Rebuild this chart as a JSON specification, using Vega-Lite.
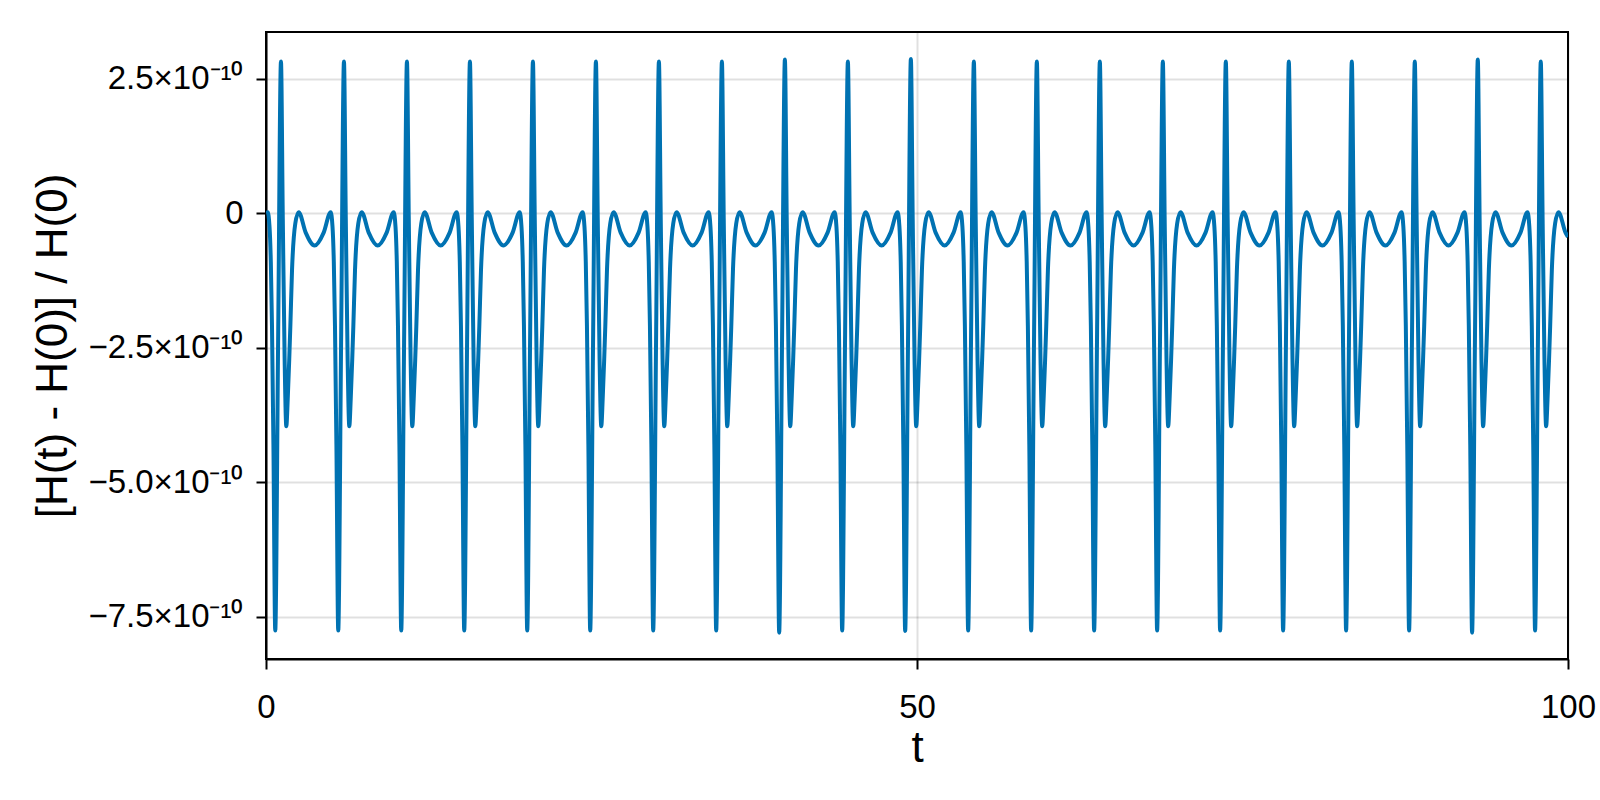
{
"$schema": "https://vega.github.io/schema/vega-lite/v6.json",
"width": 1302, "height": 627,
"autosize": {"type": "none"},
"padding": {"left": 266, "top": 32, "right": 32, "bottom": 141},
"background": "white",
"config": {"view": {"stroke": "black", "strokeWidth": 2}, "font": "Liberation Sans"},
"data": {"values": [
{"t":0,"v":0},
{"t":0.13,"v":0.02e-10},{"t":0.27,"v":-0.25e-10},{"t":0.37,"v":-0.9e-10},{"t":0.46,"v":-2.1e-10},{"t":0.57,"v":-4.3e-10},{"t":0.71,"v":-7.76e-10},{"t":0.93,"v":-2.4e-10},{"t":1.15,"v":2.82e-10},{"t":1.29,"v":-0.1e-10},{"t":1.43,"v":-2.7e-10},{"t":1.56,"v":-3.96e-10},{"t":1.67,"v":-3.45e-10},{"t":1.78,"v":-2.75e-10},{"t":1.87,"v":-2.1e-10},{"t":2.0,"v":-1.05e-10},{"t":2.25,"v":-0.19e-10},{"t":2.51,"v":0.02e-10},{"t":3.05,"v":-0.36e-10},{"t":3.74,"v":-0.6e-10},{"t":4.43,"v":-0.36e-10},
{"t":4.968,"v":0.02e-10},{"t":5.108,"v":-0.25e-10},{"t":5.208,"v":-0.9e-10},{"t":5.298,"v":-2.1e-10},{"t":5.408,"v":-4.3e-10},{"t":5.548,"v":-7.76e-10},{"t":5.768,"v":-2.4e-10},{"t":5.988,"v":2.82e-10},{"t":6.128,"v":-0.1e-10},{"t":6.268,"v":-2.7e-10},{"t":6.398,"v":-3.96e-10},{"t":6.508,"v":-3.45e-10},{"t":6.618,"v":-2.75e-10},{"t":6.708,"v":-2.1e-10},{"t":6.838,"v":-1.05e-10},{"t":7.088,"v":-0.19e-10},{"t":7.348,"v":0.02e-10},{"t":7.888,"v":-0.36e-10},{"t":8.578,"v":-0.6e-10},{"t":9.268,"v":-0.36e-10},
{"t":9.806,"v":0.02e-10},{"t":9.946,"v":-0.25e-10},{"t":10.046,"v":-0.9e-10},{"t":10.136,"v":-2.1e-10},{"t":10.246,"v":-4.3e-10},{"t":10.386,"v":-7.76e-10},{"t":10.606,"v":-2.4e-10},{"t":10.826,"v":2.82e-10},{"t":10.966,"v":-0.1e-10},{"t":11.106,"v":-2.7e-10},{"t":11.236,"v":-3.96e-10},{"t":11.346,"v":-3.45e-10},{"t":11.456,"v":-2.75e-10},{"t":11.546,"v":-2.1e-10},{"t":11.676,"v":-1.05e-10},{"t":11.926,"v":-0.19e-10},{"t":12.186,"v":0.02e-10},{"t":12.726,"v":-0.36e-10},{"t":13.416,"v":-0.6e-10},{"t":14.106,"v":-0.36e-10},
{"t":14.644,"v":0.02e-10},{"t":14.784,"v":-0.25e-10},{"t":14.884,"v":-0.9e-10},{"t":14.974,"v":-2.1e-10},{"t":15.084,"v":-4.3e-10},{"t":15.224,"v":-7.76e-10},{"t":15.444,"v":-2.4e-10},{"t":15.664,"v":2.82e-10},{"t":15.804,"v":-0.1e-10},{"t":15.944,"v":-2.7e-10},{"t":16.074,"v":-3.96e-10},{"t":16.184,"v":-3.45e-10},{"t":16.294,"v":-2.75e-10},{"t":16.384,"v":-2.1e-10},{"t":16.514,"v":-1.05e-10},{"t":16.764,"v":-0.19e-10},{"t":17.024,"v":0.02e-10},{"t":17.564,"v":-0.36e-10},{"t":18.254,"v":-0.6e-10},{"t":18.944,"v":-0.36e-10},
{"t":19.482,"v":0.02e-10},{"t":19.622,"v":-0.25e-10},{"t":19.722,"v":-0.9e-10},{"t":19.812,"v":-2.1e-10},{"t":19.922,"v":-4.3e-10},{"t":20.062,"v":-7.76e-10},{"t":20.282,"v":-2.4e-10},{"t":20.502,"v":2.82e-10},{"t":20.642,"v":-0.1e-10},{"t":20.782,"v":-2.7e-10},{"t":20.912,"v":-3.96e-10},{"t":21.022,"v":-3.45e-10},{"t":21.132,"v":-2.75e-10},{"t":21.222,"v":-2.1e-10},{"t":21.352,"v":-1.05e-10},{"t":21.602,"v":-0.19e-10},{"t":21.862,"v":0.02e-10},{"t":22.402,"v":-0.36e-10},{"t":23.092,"v":-0.6e-10},{"t":23.782,"v":-0.36e-10},
{"t":24.32,"v":0.02e-10},{"t":24.46,"v":-0.25e-10},{"t":24.56,"v":-0.9e-10},{"t":24.65,"v":-2.1e-10},{"t":24.76,"v":-4.3e-10},{"t":24.9,"v":-7.76e-10},{"t":25.12,"v":-2.4e-10},{"t":25.34,"v":2.82e-10},{"t":25.48,"v":-0.1e-10},{"t":25.62,"v":-2.7e-10},{"t":25.75,"v":-3.96e-10},{"t":25.86,"v":-3.45e-10},{"t":25.97,"v":-2.75e-10},{"t":26.06,"v":-2.1e-10},{"t":26.19,"v":-1.05e-10},{"t":26.44,"v":-0.19e-10},{"t":26.7,"v":0.02e-10},{"t":27.24,"v":-0.36e-10},{"t":27.93,"v":-0.6e-10},{"t":28.62,"v":-0.36e-10},
{"t":29.158,"v":0.02e-10},{"t":29.298,"v":-0.25e-10},{"t":29.398,"v":-0.9e-10},{"t":29.488,"v":-2.1e-10},{"t":29.598,"v":-4.3e-10},{"t":29.738,"v":-7.76e-10},{"t":29.958,"v":-2.4e-10},{"t":30.178,"v":2.82e-10},{"t":30.318,"v":-0.1e-10},{"t":30.458,"v":-2.7e-10},{"t":30.588,"v":-3.96e-10},{"t":30.698,"v":-3.45e-10},{"t":30.808,"v":-2.75e-10},{"t":30.898,"v":-2.1e-10},{"t":31.028,"v":-1.05e-10},{"t":31.278,"v":-0.19e-10},{"t":31.538,"v":0.02e-10},{"t":32.078,"v":-0.36e-10},{"t":32.768,"v":-0.6e-10},{"t":33.458,"v":-0.36e-10},
{"t":33.996,"v":0.02e-10},{"t":34.136,"v":-0.25e-10},{"t":34.236,"v":-0.9e-10},{"t":34.326,"v":-2.1e-10},{"t":34.436,"v":-4.3e-10},{"t":34.576,"v":-7.76e-10},{"t":34.796,"v":-2.4e-10},{"t":35.016,"v":2.82e-10},{"t":35.156,"v":-0.1e-10},{"t":35.296,"v":-2.7e-10},{"t":35.426,"v":-3.96e-10},{"t":35.536,"v":-3.45e-10},{"t":35.646,"v":-2.75e-10},{"t":35.736,"v":-2.1e-10},{"t":35.866,"v":-1.05e-10},{"t":36.116,"v":-0.19e-10},{"t":36.376,"v":0.02e-10},{"t":36.916,"v":-0.36e-10},{"t":37.606,"v":-0.6e-10},{"t":38.296,"v":-0.36e-10},
{"t":38.834,"v":0.02e-10},{"t":38.974,"v":-0.25e-10},{"t":39.074,"v":-0.9e-10},{"t":39.164,"v":-2.1e-10},{"t":39.274,"v":-4.3e-10},{"t":39.414,"v":-7.8e-10},{"t":39.634,"v":-2.4e-10},{"t":39.854,"v":2.86e-10},{"t":39.994,"v":-0.1e-10},{"t":40.134,"v":-2.7e-10},{"t":40.264,"v":-3.96e-10},{"t":40.374,"v":-3.45e-10},{"t":40.484,"v":-2.75e-10},{"t":40.574,"v":-2.1e-10},{"t":40.704,"v":-1.05e-10},{"t":40.954,"v":-0.19e-10},{"t":41.214,"v":0.02e-10},{"t":41.754,"v":-0.36e-10},{"t":42.444,"v":-0.6e-10},{"t":43.134,"v":-0.36e-10},
{"t":43.672,"v":0.02e-10},{"t":43.812,"v":-0.25e-10},{"t":43.912,"v":-0.9e-10},{"t":44.002,"v":-2.1e-10},{"t":44.112,"v":-4.3e-10},{"t":44.252,"v":-7.76e-10},{"t":44.472,"v":-2.4e-10},{"t":44.692,"v":2.82e-10},{"t":44.832,"v":-0.1e-10},{"t":44.972,"v":-2.7e-10},{"t":45.102,"v":-3.96e-10},{"t":45.212,"v":-3.45e-10},{"t":45.322,"v":-2.75e-10},{"t":45.412,"v":-2.1e-10},{"t":45.542,"v":-1.05e-10},{"t":45.792,"v":-0.19e-10},{"t":46.052,"v":0.02e-10},{"t":46.592,"v":-0.36e-10},{"t":47.282,"v":-0.6e-10},{"t":47.972,"v":-0.36e-10},
{"t":48.51,"v":0.02e-10},{"t":48.65,"v":-0.25e-10},{"t":48.75,"v":-0.9e-10},{"t":48.84,"v":-2.1e-10},{"t":48.95,"v":-4.3e-10},{"t":49.09,"v":-7.77e-10},{"t":49.31,"v":-2.4e-10},{"t":49.53,"v":2.87e-10},{"t":49.67,"v":-0.1e-10},{"t":49.81,"v":-2.7e-10},{"t":49.94,"v":-3.96e-10},{"t":50.05,"v":-3.45e-10},{"t":50.16,"v":-2.75e-10},{"t":50.25,"v":-2.1e-10},{"t":50.38,"v":-1.05e-10},{"t":50.63,"v":-0.19e-10},{"t":50.89,"v":0.02e-10},{"t":51.43,"v":-0.36e-10},{"t":52.12,"v":-0.6e-10},{"t":52.81,"v":-0.36e-10},
{"t":53.348,"v":0.02e-10},{"t":53.488,"v":-0.25e-10},{"t":53.588,"v":-0.9e-10},{"t":53.678,"v":-2.1e-10},{"t":53.788,"v":-4.3e-10},{"t":53.928,"v":-7.76e-10},{"t":54.148,"v":-2.4e-10},{"t":54.368,"v":2.82e-10},{"t":54.508,"v":-0.1e-10},{"t":54.648,"v":-2.7e-10},{"t":54.778,"v":-3.96e-10},{"t":54.888,"v":-3.45e-10},{"t":54.998,"v":-2.75e-10},{"t":55.088,"v":-2.1e-10},{"t":55.218,"v":-1.05e-10},{"t":55.468,"v":-0.19e-10},{"t":55.728,"v":0.02e-10},{"t":56.268,"v":-0.36e-10},{"t":56.958,"v":-0.6e-10},{"t":57.648,"v":-0.36e-10},
{"t":58.186,"v":0.02e-10},{"t":58.326,"v":-0.25e-10},{"t":58.426,"v":-0.9e-10},{"t":58.516,"v":-2.1e-10},{"t":58.626,"v":-4.3e-10},{"t":58.766,"v":-7.76e-10},{"t":58.986,"v":-2.4e-10},{"t":59.206,"v":2.82e-10},{"t":59.346,"v":-0.1e-10},{"t":59.486,"v":-2.7e-10},{"t":59.616,"v":-3.96e-10},{"t":59.726,"v":-3.45e-10},{"t":59.836,"v":-2.75e-10},{"t":59.926,"v":-2.1e-10},{"t":60.056,"v":-1.05e-10},{"t":60.306,"v":-0.19e-10},{"t":60.566,"v":0.02e-10},{"t":61.106,"v":-0.36e-10},{"t":61.796,"v":-0.6e-10},{"t":62.486,"v":-0.36e-10},
{"t":63.024,"v":0.02e-10},{"t":63.164,"v":-0.25e-10},{"t":63.264,"v":-0.9e-10},{"t":63.354,"v":-2.1e-10},{"t":63.464,"v":-4.3e-10},{"t":63.604,"v":-7.76e-10},{"t":63.824,"v":-2.4e-10},{"t":64.044,"v":2.82e-10},{"t":64.184,"v":-0.1e-10},{"t":64.324,"v":-2.7e-10},{"t":64.454,"v":-3.96e-10},{"t":64.564,"v":-3.45e-10},{"t":64.674,"v":-2.75e-10},{"t":64.764,"v":-2.1e-10},{"t":64.894,"v":-1.05e-10},{"t":65.144,"v":-0.19e-10},{"t":65.404,"v":0.02e-10},{"t":65.944,"v":-0.36e-10},{"t":66.634,"v":-0.6e-10},{"t":67.324,"v":-0.36e-10},
{"t":67.862,"v":0.02e-10},{"t":68.002,"v":-0.25e-10},{"t":68.102,"v":-0.9e-10},{"t":68.192,"v":-2.1e-10},{"t":68.302,"v":-4.3e-10},{"t":68.442,"v":-7.76e-10},{"t":68.662,"v":-2.4e-10},{"t":68.882,"v":2.82e-10},{"t":69.022,"v":-0.1e-10},{"t":69.162,"v":-2.7e-10},{"t":69.292,"v":-3.96e-10},{"t":69.402,"v":-3.45e-10},{"t":69.512,"v":-2.75e-10},{"t":69.602,"v":-2.1e-10},{"t":69.732,"v":-1.05e-10},{"t":69.982,"v":-0.19e-10},{"t":70.242,"v":0.02e-10},{"t":70.782,"v":-0.36e-10},{"t":71.472,"v":-0.6e-10},{"t":72.162,"v":-0.36e-10},
{"t":72.7,"v":0.02e-10},{"t":72.84,"v":-0.25e-10},{"t":72.94,"v":-0.9e-10},{"t":73.03,"v":-2.1e-10},{"t":73.14,"v":-4.3e-10},{"t":73.28,"v":-7.76e-10},{"t":73.5,"v":-2.4e-10},{"t":73.72,"v":2.82e-10},{"t":73.86,"v":-0.1e-10},{"t":74.0,"v":-2.7e-10},{"t":74.13,"v":-3.96e-10},{"t":74.24,"v":-3.45e-10},{"t":74.35,"v":-2.75e-10},{"t":74.44,"v":-2.1e-10},{"t":74.57,"v":-1.05e-10},{"t":74.82,"v":-0.19e-10},{"t":75.08,"v":0.02e-10},{"t":75.62,"v":-0.36e-10},{"t":76.31,"v":-0.6e-10},{"t":77.0,"v":-0.36e-10},
{"t":77.538,"v":0.02e-10},{"t":77.678,"v":-0.25e-10},{"t":77.778,"v":-0.9e-10},{"t":77.868,"v":-2.1e-10},{"t":77.978,"v":-4.3e-10},{"t":78.118,"v":-7.76e-10},{"t":78.338,"v":-2.4e-10},{"t":78.558,"v":2.82e-10},{"t":78.698,"v":-0.1e-10},{"t":78.838,"v":-2.7e-10},{"t":78.968,"v":-3.96e-10},{"t":79.078,"v":-3.45e-10},{"t":79.188,"v":-2.75e-10},{"t":79.278,"v":-2.1e-10},{"t":79.408,"v":-1.05e-10},{"t":79.658,"v":-0.19e-10},{"t":79.918,"v":0.02e-10},{"t":80.458,"v":-0.36e-10},{"t":81.148,"v":-0.6e-10},{"t":81.838,"v":-0.36e-10},
{"t":82.376,"v":0.02e-10},{"t":82.516,"v":-0.25e-10},{"t":82.616,"v":-0.9e-10},{"t":82.706,"v":-2.1e-10},{"t":82.816,"v":-4.3e-10},{"t":82.956,"v":-7.76e-10},{"t":83.176,"v":-2.4e-10},{"t":83.396,"v":2.82e-10},{"t":83.536,"v":-0.1e-10},{"t":83.676,"v":-2.7e-10},{"t":83.806,"v":-3.96e-10},{"t":83.916,"v":-3.45e-10},{"t":84.026,"v":-2.75e-10},{"t":84.116,"v":-2.1e-10},{"t":84.246,"v":-1.05e-10},{"t":84.496,"v":-0.19e-10},{"t":84.756,"v":0.02e-10},{"t":85.296,"v":-0.36e-10},{"t":85.986,"v":-0.6e-10},{"t":86.676,"v":-0.36e-10},
{"t":87.214,"v":0.02e-10},{"t":87.354,"v":-0.25e-10},{"t":87.454,"v":-0.9e-10},{"t":87.544,"v":-2.1e-10},{"t":87.654,"v":-4.3e-10},{"t":87.794,"v":-7.76e-10},{"t":88.014,"v":-2.4e-10},{"t":88.234,"v":2.82e-10},{"t":88.374,"v":-0.1e-10},{"t":88.514,"v":-2.7e-10},{"t":88.644,"v":-3.96e-10},{"t":88.754,"v":-3.45e-10},{"t":88.864,"v":-2.75e-10},{"t":88.954,"v":-2.1e-10},{"t":89.084,"v":-1.05e-10},{"t":89.334,"v":-0.19e-10},{"t":89.594,"v":0.02e-10},{"t":90.134,"v":-0.36e-10},{"t":90.824,"v":-0.6e-10},{"t":91.514,"v":-0.36e-10},
{"t":92.052,"v":0.02e-10},{"t":92.192,"v":-0.25e-10},{"t":92.292,"v":-0.9e-10},{"t":92.382,"v":-2.1e-10},{"t":92.492,"v":-4.3e-10},{"t":92.632,"v":-7.8e-10},{"t":92.852,"v":-2.4e-10},{"t":93.072,"v":2.86e-10},{"t":93.212,"v":-0.1e-10},{"t":93.352,"v":-2.7e-10},{"t":93.482,"v":-3.96e-10},{"t":93.592,"v":-3.45e-10},{"t":93.702,"v":-2.75e-10},{"t":93.792,"v":-2.1e-10},{"t":93.922,"v":-1.05e-10},{"t":94.172,"v":-0.19e-10},{"t":94.432,"v":0.02e-10},{"t":94.972,"v":-0.36e-10},{"t":95.662,"v":-0.6e-10},{"t":96.352,"v":-0.36e-10},
{"t":96.89,"v":0.02e-10},{"t":97.03,"v":-0.25e-10},{"t":97.13,"v":-0.9e-10},{"t":97.22,"v":-2.1e-10},{"t":97.33,"v":-4.3e-10},{"t":97.47,"v":-7.76e-10},{"t":97.69,"v":-2.4e-10},{"t":97.91,"v":2.82e-10},{"t":98.05,"v":-0.1e-10},{"t":98.19,"v":-2.7e-10},{"t":98.32,"v":-3.96e-10},{"t":98.43,"v":-3.45e-10},{"t":98.54,"v":-2.75e-10},{"t":98.63,"v":-2.1e-10},{"t":98.76,"v":-1.05e-10},{"t":99.01,"v":-0.19e-10},{"t":99.27,"v":0.02e-10},{"t":99.81,"v":-0.36e-10},
{"t":100,"v":-0.44e-10}
]},
"mark": {"type": "line", "color": "#0072B2", "strokeWidth": 4, "interpolate": "monotone", "clip": true},
"encoding": {
 "x": {"field": "t", "type": "quantitative",
  "scale": {"domain": [0, 100], "nice": false, "zero": false},
  "axis": {"title": "t", "values": [0, 50, 100], "grid": true, "gridColor": "black", "gridOpacity": 0.12, "gridWidth": 2,
   "domainColor": "black", "domainWidth": 2, "tickColor": "black", "tickWidth": 2, "tickSize": 10,
   "labelFontSize": 33, "labelColor": "black", "labelPadding": 22, "labelFlush": false, "labelOverlap": false,
   "titleFontSize": 44, "titleFontWeight": "normal", "titleColor": "black", "titlePadding": 2}},
 "y": {"field": "v", "type": "quantitative",
  "scale": {"domain": [-8.29e-10, 3.37e-10], "nice": false, "zero": false},
  "axis": {"title": "[H(t) - H(0)] / H(0)", "values": [-7.5e-10, -5e-10, -2.5e-10, 0, 2.5e-10],
   "labelExpr": "datum.value == 0 ? '0' : format(datum.value * 1e10, '.1f') + '×10⁻¹⁰'",
   "grid": true, "gridColor": "black", "gridOpacity": 0.12, "gridWidth": 2,
   "domainColor": "black", "domainWidth": 2, "tickColor": "black", "tickWidth": 2, "tickSize": 10,
   "labelFontSize": 33, "labelColor": "black", "labelPadding": 13, "labelOverlap": false,
   "titleFontSize": 44, "titleFontWeight": "normal", "titleColor": "black", "titlePadding": 12}}
}
}
